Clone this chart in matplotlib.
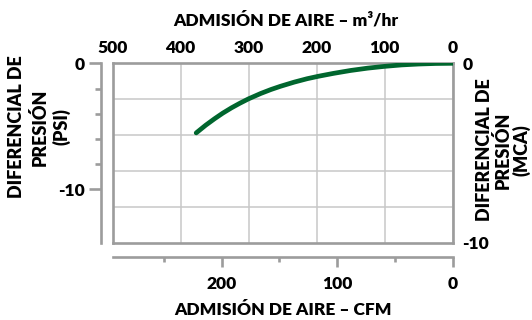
import matplotlib
matplotlib.use("Agg")
import matplotlib.pyplot as plt

# ---- data ----
airflow_m3h = [377, 363, 350, 338, 325, 313, 300, 282, 267, 253, 233, 214, 197, 175, 150, 125, 100, 75, 50, 25, 0]
pressure_mca = [-3.88, -3.45, -3.09, -2.78, -2.48, -2.23, -1.98, -1.68, -1.46, -1.28, -1.05, -0.86, -0.72, -0.56, -0.40, -0.27, -0.17, -0.09, -0.04, -0.01, 0.0]

top_ticks = [500, 400, 300, 200, 100, 0]
top_labels = ["500", "400", "300", "200", "100", "0"]
cfm_major = [200, 100, 0]
cfm_labels = ["200", "100", "0"]
cfm_minor = [250, 150, 50]
psi_major = [0, -10]
psi_labels = ["0", "-10"]
psi_minor = [-2, -4, -6, -8]
mca_major = [0, -10]
mca_labels = ["0", "-10"]
mca_grid = [-2, -4, -6, -8]

M3H_PER_CFM = 1.699
PSI_PER_MCA = 1.4223

title_top = "ADMISIÓN DE AIRE – m³/hr"
title_bottom = "ADMISIÓN DE AIRE – CFM"
title_left_lines = ["DIFERENCIAL DE", "PRESIÓN", "(PSI)"]
title_right_lines = ["DIFERENCIAL DE", "PRESIÓN", "(MCA)"]

plt.rcParams['font.family'] = ['Lato', 'DejaVu Sans']
plt.rcParams['font.weight'] = 'heavy'

W, H = 532, 320
fig = plt.figure(figsize=(W / 100, H / 100), dpi=100)
L, R, T, B = 112.5, 452.7, 63.3, 242.7
pos = [L / W, 1 - B / H, (R - L) / W, (B - T) / H]

FRAME = '#9c9c9c'
GRID = '#c8c8c8'
GREEN = '#00662e'
NUM_FS = 12.5
TITLE_FS = 12.5
VTITLE_FS = 13
WT = 'heavy'

ax = fig.add_axes(pos)
axL = ax.twinx()
axB = ax.twiny()

ax.set_xlim(500, 0)
ax.set_ylim(-10, 0)
for s in ax.spines.values():
    s.set_color(FRAME)
    s.set_linewidth(1.9)
    s.set_zorder(3)

ax.xaxis.set_ticks_position('top')
ax.set_xticks(top_ticks, labels=top_labels)
ax.tick_params(axis='x', which='major', top=True, bottom=False, labeltop=True,
               labelbottom=False, length=0, pad=5, labelsize=NUM_FS)
ax.yaxis.set_ticks_position('right')
ax.set_yticks(mca_major, labels=mca_labels)
ax.set_yticks(mca_grid, minor=True)
ax.tick_params(axis='y', which='both', left=False, right=True, labelleft=False,
               labelright=True, length=0, pad=7, labelsize=NUM_FS)
ax.grid(axis='x', which='major', color=GRID, lw=1.1, zorder=0)
ax.grid(axis='y', which='minor', color=GRID, lw=1.1, zorder=0)
ax.set_axisbelow(True)

ax.plot(airflow_m3h, pressure_mca, color=GREEN, lw=3.4, solid_capstyle='round',
        solid_joinstyle='round', zorder=4)

# left PSI axis
axL.set_ylim(-10 * PSI_PER_MCA, 0)
for k in ['top', 'right', 'bottom']:
    axL.spines[k].set_visible(False)
axL.spines['left'].set_visible(True)
axL.spines['left'].set_position(('outward', 8.5))
axL.spines['left'].set_color(FRAME)
axL.spines['left'].set_linewidth(1.9)
axL.yaxis.set_ticks_position('left')
axL.set_yticks(psi_major, labels=psi_labels)
axL.set_yticks(psi_minor, minor=True)
axL.tick_params(axis='y', which='both', left=True, right=False, labelleft=True,
                labelright=False)
axL.tick_params(axis='y', which='major', direction='out', length=8.5, width=1.9,
                color=FRAME, pad=3, labelsize=NUM_FS)
axL.tick_params(axis='y', which='minor', direction='out', length=4.2, width=1.9,
                color=FRAME)

# bottom CFM axis
axB.set_xlim(500 / M3H_PER_CFM, 0)
for k in ['top', 'right', 'left']:
    axB.spines[k].set_visible(False)
axB.spines['bottom'].set_visible(True)
axB.spines['bottom'].set_position(('outward', 10))
axB.spines['bottom'].set_color(FRAME)
axB.spines['bottom'].set_linewidth(1.9)
axB.xaxis.set_ticks_position('bottom')
axB.set_xticks(cfm_major, labels=cfm_labels)
axB.set_xticks(cfm_minor, minor=True)
axB.tick_params(axis='x', which='both', bottom=True, top=False, labelbottom=True,
                labeltop=False)
axB.tick_params(axis='x', which='major', direction='out', length=7.2, width=1.9,
                color=FRAME, pad=7, labelsize=NUM_FS)
axB.tick_params(axis='x', which='minor', direction='out', length=3.6, width=1.9,
                color=FRAME)

for a in (ax, axL, axB):
    for lab in a.get_xticklabels() + a.get_yticklabels():
        lab.set_fontweight(WT)

# titles
fig.text(286 / W, 1 - 20 / H, title_top, ha='center', va='center', fontsize=TITLE_FS,
         fontweight=WT)
fig.text(282.6 / W, 1 - 310 / H, title_bottom, ha='center', va='center', fontsize=TITLE_FS,
         fontweight=WT)
for xpx, line in zip([17, 39.5, 61.5], title_left_lines):
    fig.text(xpx / W, 1 - 127 / H, line, ha='center', va='center', rotation=90,
             fontsize=VTITLE_FS, fontweight=WT)
for xpx, line in zip([484.5, 503, 521.5], title_right_lines):
    fig.text(xpx / W, 1 - 150 / H, line, ha='center', va='center', rotation=90,
             fontsize=VTITLE_FS, fontweight=WT)

fig.savefig('out.png', dpi=100)
